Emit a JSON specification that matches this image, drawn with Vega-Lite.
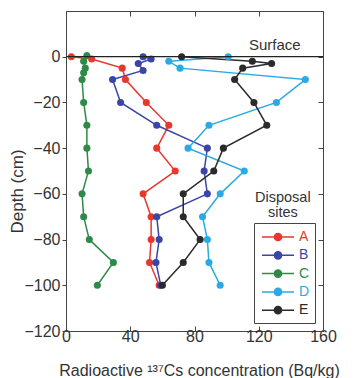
{
  "$schema": "https://vega.github.io/schema/vega-lite/v6.json",
  "width": 257,
  "height": 320,
  "autosize": {"type": "none"},
  "padding": {"left": 66, "top": 11, "right": 31, "bottom": 47},
  "config": {
    "font": "Liberation Sans",
    "view": {"stroke": "#444", "strokeWidth": 1},
    "axis": {"grid": false, "domain": false, "labelColor": "#333", "titleColor": "#333", "tickColor": "#444", "titleFontWeight": "normal", "labelFont": "Liberation Sans", "titleFont": "Liberation Sans"}
  },
  "resolve": {"axis": {"x": "independent", "y": "independent"}},
  "layer": [
    {
      "data": {"values": [
        {"site": "A", "conc": 3.3, "depth": 0}, {"site": "A", "conc": 16, "depth": -1}, {"site": "A", "conc": 35, "depth": -5}, {"site": "A", "conc": 37, "depth": -10}, {"site": "A", "conc": 50, "depth": -20}, {"site": "A", "conc": 64, "depth": -30}, {"site": "A", "conc": 56.5, "depth": -40}, {"site": "A", "conc": 68, "depth": -50}, {"site": "A", "conc": 48, "depth": -60}, {"site": "A", "conc": 53, "depth": -70}, {"site": "A", "conc": 53, "depth": -80}, {"site": "A", "conc": 52, "depth": -90}, {"site": "A", "conc": 58, "depth": -100},
        {"site": "B", "conc": 48, "depth": 0}, {"site": "B", "conc": 53, "depth": -1}, {"site": "B", "conc": 45, "depth": -3}, {"site": "B", "conc": 48, "depth": -6}, {"site": "B", "conc": 29, "depth": -10}, {"site": "B", "conc": 34, "depth": -20}, {"site": "B", "conc": 56.5, "depth": -30}, {"site": "B", "conc": 88, "depth": -40}, {"site": "B", "conc": 86, "depth": -50}, {"site": "B", "conc": 88, "depth": -60}, {"site": "B", "conc": 56.5, "depth": -70}, {"site": "B", "conc": 58, "depth": -80}, {"site": "B", "conc": 56, "depth": -90}, {"site": "B", "conc": 59, "depth": -100},
        {"site": "C", "conc": 13, "depth": 0.5}, {"site": "C", "conc": 11, "depth": -2}, {"site": "C", "conc": 12, "depth": -5}, {"site": "C", "conc": 11, "depth": -7}, {"site": "C", "conc": 10, "depth": -10}, {"site": "C", "conc": 11, "depth": -20}, {"site": "C", "conc": 13, "depth": -30}, {"site": "C", "conc": 13, "depth": -40}, {"site": "C", "conc": 14, "depth": -50}, {"site": "C", "conc": 10, "depth": -60}, {"site": "C", "conc": 11, "depth": -70}, {"site": "C", "conc": 14.5, "depth": -80}, {"site": "C", "conc": 29.5, "depth": -90}, {"site": "C", "conc": 19.5, "depth": -100},
        {"site": "D", "conc": 101, "depth": 0}, {"site": "D", "conc": 64, "depth": -2}, {"site": "D", "conc": 71, "depth": -5}, {"site": "D", "conc": 149, "depth": -10}, {"site": "D", "conc": 131, "depth": -20}, {"site": "D", "conc": 89, "depth": -30}, {"site": "D", "conc": 76, "depth": -40}, {"site": "D", "conc": 111, "depth": -50}, {"site": "D", "conc": 96, "depth": -60}, {"site": "D", "conc": 85, "depth": -70}, {"site": "D", "conc": 88, "depth": -80}, {"site": "D", "conc": 89, "depth": -90}, {"site": "D", "conc": 96, "depth": -100},
        {"site": "E", "conc": 72, "depth": 0}, {"site": "E", "conc": 116, "depth": -2}, {"site": "E", "conc": 128, "depth": -3}, {"site": "E", "conc": 110, "depth": -5}, {"site": "E", "conc": 105, "depth": -10}, {"site": "E", "conc": 117, "depth": -20}, {"site": "E", "conc": 125, "depth": -30}, {"site": "E", "conc": 98, "depth": -40}, {"site": "E", "conc": 92, "depth": -50}, {"site": "E", "conc": 73, "depth": -60}, {"site": "E", "conc": 73, "depth": -70}, {"site": "E", "conc": 83.5, "depth": -80}, {"site": "E", "conc": 73, "depth": -90}, {"site": "E", "conc": 60, "depth": -100}
      ]},
      "mark": {"type": "line", "strokeWidth": 1.5, "point": {"filled": true, "size": 50, "opacity": 1}},
      "encoding": {
        "x": {"field": "conc", "type": "quantitative", "scale": {"domain": [0, 160], "nice": false},
          "axis": {"orient": "bottom", "values": [0, 40, 80, 120, 160], "tickSize": -5, "labelPadding": 2, "labelFontSize": 16, "labelFlush": false,
            "title": "Radioactive ¹³⁷Cs concentration (Bq/kg)", "titleFontSize": 16, "titleX": 133, "titleY": 39, "titleBaseline": "middle"}},
        "y": {"field": "depth", "type": "quantitative", "scale": {"domain": [-120, 20], "nice": false},
          "axis": {"orient": "left", "values": [-120, -100, -80, -60, -40, -20, 0], "tickSize": 4, "labelPadding": 2, "labelFontSize": 16, "labelFlush": false,
            "title": "Depth (cm)", "titleFontSize": 17, "titleX": -49, "titleY": 180, "titleBaseline": "middle", "titleAngle": -90}},
        "color": {"field": "site", "type": "nominal",
          "scale": {"domain": ["A", "B", "C", "D", "E"], "range": ["#e8372c", "#3a45a5", "#2e8a47", "#2aaae2", "#2b2b2b"]},
          "legend": {"orient": "none", "legendX": 188, "legendY": 212, "title": null,
            "strokeColor": "#444", "padding": 5, "rowPadding": 2.3,
            "symbolType": "M-2,0H2M-0.45,0A0.45,0.45,0,1,1,0.45,0A0.45,0.45,0,1,1,-0.45,0Z",
            "symbolSize": 256, "symbolOffset": 10, "labelOffset": 12, "labelFontSize": 14, "labelFont": "Liberation Sans",
            "encode": {
              "labels": {"update": {"fill": {"signal": "scale('color', datum.value)"}}},
              "symbols": {"update": {"stroke": {"signal": "scale('color', datum.value)"}, "fill": {"signal": "scale('color', datum.value)"}, "strokeWidth": {"value": 1.5}, "opacity": {"value": 1}}}
            }}},
        "order": {"field": "depth", "sort": "descending"}
      }
    },
    {
      "data": {"values": [{"level": 0}]},
      "mark": {"type": "rule", "color": "#222", "strokeWidth": 1.2},
      "encoding": {
        "y": {"field": "level", "type": "quantitative", "axis": {"orient": "right", "values": [-120, -100, -80, -60, -40, -20, 0], "labels": false, "tickSize": -5, "title": null}},
        "x": {"datum": 0, "type": "quantitative", "axis": {"orient": "top", "values": [0, 40, 80, 120, 160], "labels": false, "tickSize": -5, "title": null}},
        "x2": {"datum": 160}
      }
    },
    {
      "data": {"values": [
        {"t": "Surface", "cx": 130, "cy": 5.1, "size": 15},
        {"t": "Disposal", "cx": 135, "cy": -61.8, "size": 14.5},
        {"t": "sites", "cx": 135, "cy": -68.4, "size": 14.5}
      ]},
      "mark": {"type": "text", "baseline": "middle", "align": "center", "color": "#333", "font": "Liberation Sans"},
      "encoding": {
        "x": {"field": "cx", "type": "quantitative", "axis": null},
        "y": {"field": "cy", "type": "quantitative", "axis": null},
        "text": {"field": "t"},
        "size": {"field": "size", "type": "quantitative", "scale": null, "legend": null}
      }
    }
  ]
}
